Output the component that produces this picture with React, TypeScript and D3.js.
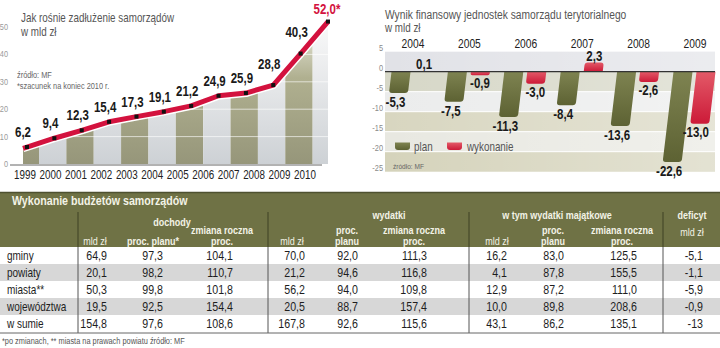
import React from "react";
import * as d3 from "d3";

// ---------- data ----------
const debtYears = [1999, 2000, 2001, 2002, 2003, 2004, 2005, 2006, 2007, 2008, 2009, 2010];
const debtValues = [6.2, 9.4, 12.3, 15.4, 17.3, 19.1, 21.2, 24.9, 25.9, 28.8, 40.3, 52.0];
const debtTicks = [0, 10, 20, 30, 40, 50];

const resultYears = [2004, 2005, 2006, 2007, 2008, 2009];
const planValues = [-5.3, -7.5, -11.3, -8.4, -13.6, -22.6];
const wykonanieValues = [0.1, -0.9, -3.0, 2.3, -2.6, -13.0];
const resultTicks = [5, 0, -5, -10, -15, -20, -25];

const tableRows = ["gminy", "powiaty", "miasta**", "województwa", "w sumie"];
const dochMld = [64.9, 20.1, 50.3, 19.5, 154.8];
const dochPlan = [97.3, 98.2, 99.8, 92.5, 97.6];
const dochZm = [104.1, 110.7, 101.8, 154.4, 108.6];
const wydMld = [70.0, 21.2, 56.2, 20.5, 167.8];
const wydPlan = [92.0, 94.6, 94.0, 88.7, 92.6];
const wydZm = [111.3, 116.8, 109.8, 157.4, 115.6];
const majMld = [16.2, 4.1, 12.9, 10.0, 43.1];
const majPlan = [83.0, 87.8, 87.2, 89.8, 86.2];
const majZm = [125.5, 155.5, 111.0, 208.6, 135.1];
const deficyt = ["-5,1", "-1,1", "-5,9", "-0,9", "-13"];

const FONT = "'Liberation Sans', Arial, sans-serif";
const f1 = (v: number) => d3.format(".1f")(v).replace(".", ",").replace("−", "-");

// condensed text helper (emulates a narrow typeface)
function T(props: any) {
  const { x, y, sx = 0.82, children, ...rest } = props;
  return (
    <text transform={`translate(${x},${y}) scale(${sx},1)`} fontFamily={FONT} {...rest}>{children}</text>
  );
}

// ---------- left chart ----------
function DebtChart() {
  const x = d3.scalePoint<number>().domain(debtYears).range([27, 328]);
  const xl = d3.scalePoint<number>().domain(debtYears).range([25, 305]);
  const y = d3.scaleLinear().domain([0, 50]).range([164, 27]);
  const pts = debtYears.map((yr, i) => [x(yr)!, y(debtValues[i])] as [number, number]);
  const p0 = pts[0], p1 = pts[1];
  const ext = 4 / (p1[0] - p0[0]);
  const start: [number, number] = [p0[0] - 4, p0[1] - (p1[1] - p0[1]) * ext];
  const linePts = [start, ...pts];
  const line = d3.line<[number, number]>().x(d => d[0]).y(d => d[1]);
  const area = d3.area<[number, number]>().x(d => d[0]).y0(y(0)).y1(d => d[1]);
  const step = x.step();
  return (
    <g>
      <defs>
        <clipPath id="debtClip"><path d={area(linePts)!} /></clipPath>
        <linearGradient id="olivStripe" gradientUnits="userSpaceOnUse" x1="0" y1="20" x2="0" y2="164">
          <stop offset="0" stopColor="#eeeee4" />
          <stop offset="0.4" stopColor="#b0b090" />
          <stop offset="1" stopColor="#96967a" />
        </linearGradient>
        <linearGradient id="lightStripe" gradientUnits="userSpaceOnUse" x1="0" y1="20" x2="0" y2="164">
          <stop offset="0" stopColor="#fafafa" />
          <stop offset="1" stopColor="#cdd1d5" />
        </linearGradient>
      </defs>
      <g clipPath="url(#debtClip)">
        {debtYears.map((yr, i) => (
          <rect key={yr} x={x(yr)! + 12 - step} y={0} width={step} height={y(0)}
            fill={i % 2 === 0 ? "url(#olivStripe)" : "url(#lightStripe)"} />
        ))}
        {debtTicks.slice(1).map(t => (
          <line key={t} x1={0} x2={340} y1={y(t)} y2={y(t)} stroke="#fff" strokeOpacity={0.8} strokeWidth={0.8} />
        ))}
      </g>
      <line x1={10} x2={322} y1={y(0) + 1} y2={y(0) + 1} stroke="#666" strokeWidth={1} />
      {debtTicks.map(t => (
        <T key={t} x={8} y={y(t) + 3} textAnchor="end" fontSize={9} fill="#9a9a9a">{t}</T>
      ))}
      <path d={line(linePts)!} fill="none" stroke="#fff" strokeWidth={8} strokeLinejoin="round" />
      <path d={line(linePts)!} fill="none" stroke="#d3123e" strokeWidth={5} strokeLinejoin="round" />
      {pts.map((p, i) => (
        <rect key={i} x={p[0] - 2} y={p[1] - 2} width={4} height={4} fill="#111" />
      ))}
      {pts.map((p, i) => {
        const last = i === pts.length - 1;
        const steep = i < pts.length - 1 ? Math.max(0, (p[1] - pts[i + 1][1]) - 25) : 0;
        return (
          <T key={i} x={p[0] - (last ? 1 : 4)} y={p[1] - (last ? 8 : 10) - steep} textAnchor="middle" fontSize={14}
            fontWeight="bold" fill={last ? "#d3123e" : "#1a1a1a"}>
            {f1(debtValues[i]) + (last ? "*" : "")}
          </T>
        );
      })}
      {debtYears.map(yr => (
        <T key={yr} x={xl(yr)} y={179} textAnchor="middle" fontSize={12} fill="#222">{yr}</T>
      ))}
      <T x={21} y={22} fontSize={12} fill="#555">Jak rośnie zadłużenie samorządów</T>
      <T x={21} y={36} fontSize={12} fill="#555">w mld zł</T>
      <T x={17} y={78} fontSize={9} fill="#666">źródło: MF</T>
      <T x={17} y={89} fontSize={9} fill="#666">*szacunek na koniec 2010 r.</T>
    </g>
  );
}

// ---------- right chart ----------
function barPath(cx: number, y0: number, y1: number, w: number, k: number) {
  const dir = y1 > y0 ? 1 : -1;
  const len = Math.abs(y1 - y0);
  const r = Math.min(3, len / 2);
  const c = (yy: number) => cx + k * (yy - y0);
  const p = d3.path();
  p.moveTo(c(y0) - w / 2, y0);
  p.lineTo(c(y0) + w / 2, y0);
  p.lineTo(c(y1 - dir * r) + w / 2, y1 - dir * r);
  p.quadraticCurveTo(c(y1) + w / 2, y1, c(y1) + w / 2 - r, y1);
  p.lineTo(c(y1) - w / 2 + r, y1);
  p.quadraticCurveTo(c(y1) - w / 2, y1, c(y1 - dir * r) - w / 2, y1 - dir * r);
  p.closePath();
  return p.toString();
}

function ResultChart() {
  const x = d3.scalePoint<number>().domain(resultYears).range([413, 695]);
  const y = d3.scaleLinear().domain([5, -25]).range([51.7, 171.7]);
  const k = -0.12;
  const w = 19;
  const bandColors = ["#e1e2e7", "#d6d7c7", "#ebecec", "#d8d6c0", "#e8e8e1", "#d5d3bb"];
  const left = 385, right = 715;
  const bands = d3.pairs(resultTicks);
  return (
    <g>
      <defs>
        <linearGradient id="planGrad" x1="0" y1="0" x2="0" y2="1">
          <stop offset="0" stopColor="#7e8351" />
          <stop offset="1" stopColor="#5d6233" />
        </linearGradient>
        <linearGradient id="wykGrad" x1="0" y1="0" x2="0" y2="1">
          <stop offset="0" stopColor="#e35a68" />
          <stop offset="1" stopColor="#cc1a38" />
        </linearGradient>
        <linearGradient id="bandFade" x1="0" y1="0" x2="1" y2="0">
          <stop offset="0" stopColor="#fff" stopOpacity={0} />
          <stop offset="1" stopColor="#fff" stopOpacity={0.35} />
        </linearGradient>
      </defs>
      {bands.map(([a, b], i) => (
        <rect key={i} x={left} y={y(a)} width={right - left} height={y(b) - y(a)} fill={bandColors[i]} />
      ))}
      <rect x={left} y={y(5)} width={right - left} height={y(-25) - y(5)} fill="url(#bandFade)" />
      {resultTicks.filter(t => t !== 0 && t !== 5 && t !== -25).map(t => (
        <line key={t} x1={left} x2={right} y1={y(t)} y2={y(t)} stroke="#fff" strokeWidth={1} />
      ))}
      {resultTicks.map(t => (
        <T key={t} x={383} y={y(t) - 0.5} textAnchor="end" fontSize={9} fill="#8a8a8a">{t}</T>
      ))}
      {resultYears.map(yr => (
        <T key={yr} x={x(yr)} y={48} textAnchor="middle" fontSize={12.5} fill="#222">{yr}</T>
      ))}
      {resultYears.map((yr, i) => {
        const cp = x(yr)! - 12;
        const cw = x(yr)! + 11;
        const y0 = y(0);
        const pv = planValues[i], wv = wykonanieValues[i];
        const yp = y(pv), yw = y(wv);
        const pLabelX = cp + k * (yp - y0) - 3;
        const wLabelX = cw + k * (yw - y0) - (wv < -10 ? 4 : 0);
        return (
          <g key={yr}>
            <path d={barPath(cp, y0, yp, w, k)} fill="url(#planGrad)" />
            <path d={barPath(cw, y0, yw, w, k)} fill="url(#wykGrad)" />
            <T x={pLabelX} y={yp + 14} textAnchor="middle" fontSize={14} fontWeight="bold" fill="#1a1a1a">{f1(pv)}</T>
            <T x={wLabelX} y={wv >= 0 ? Math.min(yw, y0) - 2 : yw + 13} textAnchor="middle" fontSize={14} fontWeight="bold" fill="#1a1a1a">{f1(wv)}</T>
          </g>
        );
      })}
      <line x1={left} x2={right} y1={y(0)} y2={y(0)} stroke="#333" strokeWidth={1.3} />
      <path d={barPath(402.5, 142.5, 150, 15, 0)} fill="url(#planGrad)" />
      <T x={414} y={150.5} fontSize={12} fill="#555">plan</T>
      <path d={barPath(454.5, 142.5, 150, 15, 0)} fill="url(#wykGrad)" />
      <T x={467} y={150.5} fontSize={12} fill="#555">wykonanie</T>
      <T x={393} y={169} fontSize={8} fill="#666">źródło: MF</T>
      <T x={385} y={19} fontSize={12.5} fill="#555">Wynik finansowy jednostek samorządu terytorialnego</T>
      <T x={385} y={32} fontSize={12} fill="#555">w mld zł</T>
    </g>
  );
}

// ---------- table ----------
function BudgetTable() {
  const rowsY = d3.scaleBand<string>().domain(tableRows).range([247, 332]);
  const columns: { values: string[]; right: number }[] = [
    { values: dochMld.map(f1), right: 107 },
    { values: dochPlan.map(f1), right: 163 },
    { values: dochZm.map(f1), right: 233 },
    { values: wydMld.map(f1), right: 305 },
    { values: wydPlan.map(f1), right: 358 },
    { values: wydZm.map(f1), right: 427 },
    { values: majMld.map(f1), right: 507 },
    { values: majPlan.map(f1), right: 564 },
    { values: majZm.map(f1), right: 637 },
    { values: deficyt, right: 703 },
  ];
  const dividers = [78, 268, 469, 663];
  const hc = "#f3f3e6";
  const ht = (x: number, yy: number, s: string, bold = true, size = 11) => (
    <T x={x} y={yy} textAnchor="middle" fontSize={size} fontWeight={bold ? "bold" : "normal"} fill={hc}>{s}</T>
  );
  return (
    <g>
      <rect x={0} y={192} width={720} height={55} fill="#6f7245" />
      <line x1={0} x2={720} y1={192.5} y2={192.5} stroke="#4e5130" strokeWidth={1.5} />
      <T x={12} y={205} fontSize={13} fontWeight="bold" fill={hc}>Wykonanie budżetów samorządów</T>
      {rowsY.domain().map((r, i) => (
        i % 2 === 1 ? <rect key={r} x={0} y={rowsY(r)} width={720} height={rowsY.bandwidth()} fill="#d7d7d7" /> : null
      ))}
      {dividers.map(d => (
        <g key={d}>
          <line x1={d} x2={d} y1={212} y2={247} stroke="#3f4124" strokeWidth={1} />
          <line x1={d} x2={d} y1={247} y2={333} stroke="#555" strokeWidth={1} />
        </g>
      ))}
      {ht(172, 226, "dochody")}
      {ht(95, 245, "mld zł", false)}
      {ht(153, 245, "proc. planu*")}
      {ht(222, 234, "zmiana roczna")}
      {ht(222, 245, "proc.")}
      {ht(389, 219, "wydatki")}
      {ht(292, 245, "mld zł", false)}
      {ht(347, 234, "proc.")}
      {ht(347, 245, "planu")}
      {ht(414, 234, "zmiana roczna")}
      {ht(414, 245, "proc.")}
      {ht(557, 219, "w tym wydatki majątkowe")}
      {ht(497, 245, "mld zł", false)}
      {ht(553, 234, "proc.")}
      {ht(553, 245, "planu")}
      {ht(622, 234, "zmiana roczna")}
      {ht(622, 245, "proc.")}
      {ht(692, 219, "deficyt")}
      {ht(692, 236, "mld zł", false)}
      {tableRows.map((r, i) => {
        const yy = rowsY(r)! + rowsY.bandwidth() / 2 + 4.5;
        return (
          <g key={r}>
            <T x={7} y={yy} fontSize={12.5} sx={0.8} fill="#1e1e1e">{r}</T>
            {columns.map((c, j) => (
              <T key={j} x={c.right} y={yy} textAnchor="end" fontSize={13} fill="#1e1e1e">{c.values[i]}</T>
            ))}
          </g>
        );
      })}
      <line x1={0} x2={720} y1={333} y2={333} stroke="#666" strokeWidth={1} />
      <T x={2} y={344} fontSize={9} fill="#555">*po zmianach, ** miasta na prawach powiatu    źródło: MF</T>
    </g>
  );
}

export default function App() {
  return (
    <svg width={720} height={348} style={{ position: "absolute", left: 0, top: 0, background: "#fff" }}>
      <rect width={720} height={348} fill="#fff" />
      <DebtChart />
      <ResultChart />
      <BudgetTable />
    </svg>
  );
}
